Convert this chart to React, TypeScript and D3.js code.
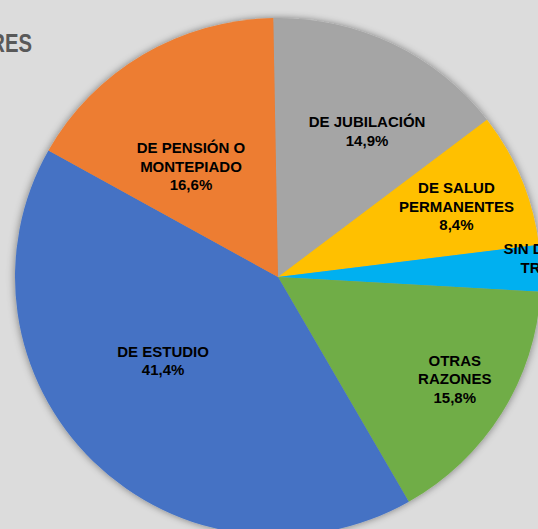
import React, { useEffect, useRef } from "react";
import * as d3 from "d3";

// data (percent)
const categories = [
  ["DE JUBILACIÓN"],
  ["DE SALUD", "PERMANENTES"],
  ["SIN DESEOS DE", "TRABAJAR"],
  ["OTRAS", "RAZONES"],
  ["DE ESTUDIO"],
  ["DE PENSIÓN O", "MONTEPIADO"],
];
const values = [14.9, 8.4, 2.9, 15.8, 41.4, 16.6];
const valueLabels = ["14,9%", "8,4%", "2,9%", "15,8%", "41,4%", "16,6%"];
const colors = ["#a5a5a5", "#ffc000", "#00b0f0", "#70ad47", "#4472c4", "#ed7d31"];

// label layout: angle nudge (deg) from slice middle, distance from centre
const labelNudge = [5.6, 0.6, 0, -1.8, 9.3, -7.2];
const labelDist = [171, 192, 284, 204, 142, 141];

const W = 538;
const H = 529;

export default function App() {
  const ref = useRef<SVGSVGElement>(null);

  useEffect(() => {
    const svg = d3.select(ref.current);
    svg.selectAll("*").remove();

    const cx = 278;
    const cy = 277;
    const rx = 263;
    const ry = 259;

    svg.append("rect").attr("width", W).attr("height", H).attr("fill", "#dcdcdc");

    const defs = svg.append("defs");
    const f = defs
      .append("filter")
      .attr("id", "sh")
      .attr("x", "-20%")
      .attr("y", "-20%")
      .attr("width", "140%")
      .attr("height", "140%");
    f.append("feDropShadow")
      .attr("dx", 0)
      .attr("dy", 0)
      .attr("stdDeviation", 4)
      .attr("flood-color", "#000")
      .attr("flood-opacity", 0.45);

    // title fragment cut by the edge
    svg
      .append("text")
      .attr("transform", "translate(32,52) scale(0.78,1)")
      .attr("text-anchor", "end")
      .attr("font-family", "Liberation Sans, Arial, sans-serif")
      .attr("font-weight", "bold")
      .attr("font-size", 26)
      .attr("fill", "#595959")
      .text("RES");

    const pie = d3
      .pie<number>()
      .sort(null)
      .value((d) => d)
      .startAngle(-0.018)
      .endAngle(2 * Math.PI - 0.018);
    const arcs = pie(values);
    const arc = d3.arc<d3.PieArcDatum<number>>().innerRadius(0).outerRadius(rx);

    const g = svg
      .append("g")
      .attr("transform", `translate(${cx},${cy}) scale(1,${ry / rx})`)
      .attr("filter", "url(#sh)");

    g.selectAll("path")
      .data(arcs)
      .enter()
      .append("path")
      .attr("d", arc)
      .attr("fill", (_, i) => colors[i]);

    const lineH = 18.5;
    const labels = svg.append("g");
    arcs.forEach((a, i) => {
      const mid = (a.startAngle + a.endAngle) / 2 + (labelNudge[i] * Math.PI) / 180;
      const x = cx + labelDist[i] * Math.sin(mid);
      const y = cy - labelDist[i] * Math.cos(mid);
      const lines = [...categories[i], valueLabels[i]];
      const y0 = y - ((lines.length - 1) * lineH) / 2;
      const t = labels
        .append("text")
        .attr("text-anchor", "middle")
        .attr("font-family", "Liberation Sans, Arial, sans-serif")
        .attr("font-weight", "bold")
        .attr("font-size", 15)
        .attr("fill", "#000");
      lines.forEach((l, j) => {
        t.append("tspan")
          .attr("x", x)
          .attr("y", y0 + j * lineH)
          .attr("dominant-baseline", "central")
          .text(l);
      });
    });
  }, []);

  return (
    <svg
      ref={ref}
      width={W}
      height={H}
      style={{ position: "absolute", left: 0, top: 0, display: "block" }}
    />
  );
}
